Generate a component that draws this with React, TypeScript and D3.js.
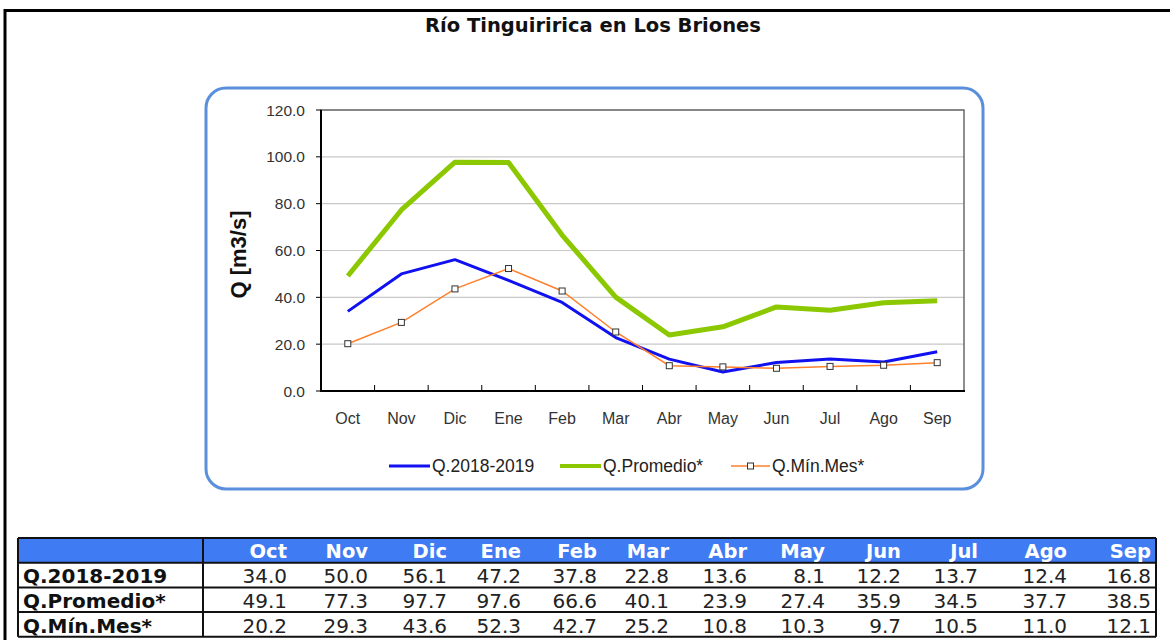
import React from "react";
import * as d3 from "d3";

const months = ["Oct", "Nov", "Dic", "Ene", "Feb", "Mar", "Abr", "May", "Jun", "Jul", "Ago", "Sep"];
const q2018 = [34.0, 50.0, 56.1, 47.2, 37.8, 22.8, 13.6, 8.1, 12.2, 13.7, 12.4, 16.8];
const qProm = [49.1, 77.3, 97.7, 97.6, 66.6, 40.1, 23.9, 27.4, 35.9, 34.5, 37.7, 38.5];
const qMin = [20.2, 29.3, 43.6, 52.3, 42.7, 25.2, 10.8, 10.3, 9.7, 10.5, 11.0, 12.1];
const yTicks = [0, 20, 40, 60, 80, 100, 120];
const seriesNames = ["Q.2018-2019", "Q.Promedio*", "Q.Mín.Mes*"];

const W = 1170;
const H = 640;
const plot = { left: 321, right: 964, top: 110, bottom: 391 };
const colBlue = "#1010f0";
const colGreen = "#8cc800";
const colOrange = "#ff7f2a";
const arial = "'Liberation Sans', Arial, sans-serif";
const verd = "'DejaVu Sans', Verdana, sans-serif";

// table layout
const tbl = { left: 18, right: 1156, top: 538, rowH: 24.7, firstColRight: 203 };
const colRightEdges = [287, 368, 447, 521, 597, 669, 747, 825, 901, 978, 1067, 1151];

export default function App() {
  const x = d3.scaleBand<string>().domain(months).range([plot.left, plot.right]);
  const y = d3.scaleLinear().domain([0, 120]).range([plot.bottom, plot.top]);
  const line = d3
    .line<number>()
    .x((_, i) => (x(months[i]) as number) + x.bandwidth() / 2)
    .y((d) => y(d));

  const rows = [q2018, qProm, qMin];

  return (
    <svg
      width={W}
      height={H}
      style={{ position: "absolute", left: 0, top: 0, background: "#fff" }}
      xmlns="http://www.w3.org/2000/svg"
    >
      {/* page border */}
      <line x1={4} x2={W} y1={10.5} y2={10.5} stroke="#000" strokeWidth={3} />
      <line x1={5} x2={5} y1={9} y2={H} stroke="#000" strokeWidth={3} />

      {/* title */}
      <text x={593} y={32} textAnchor="middle" fontFamily={verd} fontWeight="bold" fontSize={19.5} fill="#111">
        Río Tinguiririca en Los Briones
      </text>

      {/* rounded frame */}
      <rect x={206} y={88} width={777} height={401} rx={20} ry={20} fill="#fff" stroke="#5a8fdc" strokeWidth={3} />

      {/* gridlines */}
      {yTicks.map((t) => (
        <line key={"g" + t} x1={plot.left} x2={plot.right} y1={y(t)} y2={y(t)} stroke="#c8c8c8" strokeWidth={1.2} />
      ))}
      {/* plot border */}
      <rect
        x={plot.left}
        y={plot.top}
        width={plot.right - plot.left}
        height={plot.bottom - plot.top}
        fill="none"
        stroke="#6a6a6a"
        strokeWidth={1.5}
      />
      <line x1={plot.left} x2={plot.left} y1={plot.top} y2={plot.bottom + 1} stroke="#000" strokeWidth={2} />
      <line x1={plot.left} x2={plot.right + 1} y1={plot.bottom} y2={plot.bottom} stroke="#000" strokeWidth={2} />

      {/* y ticks */}
      {yTicks.map((t) => (
        <g key={"yt" + t}>
          <line x1={plot.left - 5} x2={plot.left} y1={y(t)} y2={y(t)} stroke="#000" strokeWidth={1} />
          <text x={305} y={y(t) + 5.5} textAnchor="end" fontFamily={arial} fontSize={15.5} fill="#333">
            {t.toFixed(1)}
          </text>
        </g>
      ))}
      {/* x ticks */}
      {months.map((m, i) =>
        i > 0 ? (
          <line
            key={"xt" + m}
            x1={x(m) as number}
            x2={x(m) as number}
            y1={plot.bottom}
            y2={plot.bottom - 6}
            stroke="#000"
            strokeWidth={1}
          />
        ) : null
      )}
      {months.map((m) => (
        <text
          key={"xl" + m}
          x={(x(m) as number) + x.bandwidth() / 2}
          y={424}
          textAnchor="middle"
          fontFamily={arial}
          fontSize={16}
          fill="#333"
        >
          {m}
        </text>
      ))}

      {/* y axis title */}
      <text
        transform={`translate(246,${(plot.top + plot.bottom) / 2 + 4}) rotate(-90)`}
        textAnchor="middle"
        fontFamily={arial}
        fontWeight="bold"
        fontSize={22}
        fill="#111"
      >
        Q [m3/s]
      </text>

      {/* series */}
      <path d={line(qProm) as string} fill="none" stroke={colGreen} strokeWidth={5} strokeLinejoin="round" />
      <path d={line(q2018) as string} fill="none" stroke={colBlue} strokeWidth={3} strokeLinejoin="round" />
      <path d={line(qMin) as string} fill="none" stroke={colOrange} strokeWidth={1.5} />
      {qMin.map((v, i) => (
        <rect
          key={"m" + i}
          x={(x(months[i]) as number) + x.bandwidth() / 2 - 3}
          y={y(v) - 3}
          width={6}
          height={6}
          fill="#fff"
          stroke="#333"
          strokeWidth={1}
        />
      ))}

      {/* legend */}
      <g fontFamily={arial} fontSize={17.5} fill="#222">
        <line x1={389} x2={430} y1={466} y2={466} stroke={colBlue} strokeWidth={3} />
        <text x={432} y={472}>{seriesNames[0]}</text>
        <line x1={560} x2={601} y1={466} y2={466} stroke={colGreen} strokeWidth={4} />
        <text x={603} y={472}>{seriesNames[1]}</text>
        <line x1={731} x2={770} y1={466} y2={466} stroke={colOrange} strokeWidth={1.5} />
        <rect x={747.5} y={463} width={6} height={6} fill="#fff" stroke="#333" strokeWidth={1} />
        <text x={772} y={472}>{seriesNames[2]}</text>
      </g>

      {/* table */}
      <rect x={tbl.left} y={tbl.top} width={tbl.right - tbl.left} height={tbl.rowH} fill="#3f7bf3" />
      {[0, 1, 2, 3, 4].map((r) => (
        <line
          key={"hr" + r}
          x1={tbl.left}
          x2={tbl.right}
          y1={tbl.top + r * tbl.rowH}
          y2={tbl.top + r * tbl.rowH}
          stroke="#111"
          strokeWidth={2}
        />
      ))}
      <line x1={tbl.left} x2={tbl.left} y1={tbl.top} y2={tbl.top + 4 * tbl.rowH} stroke="#111" strokeWidth={2} />
      <line x1={tbl.right} x2={tbl.right} y1={tbl.top} y2={tbl.top + 4 * tbl.rowH} stroke="#111" strokeWidth={2} />
      <line
        x1={tbl.firstColRight}
        x2={tbl.firstColRight}
        y1={tbl.top}
        y2={tbl.top + 4 * tbl.rowH}
        stroke="#111"
        strokeWidth={2}
      />
      {months.map((m, i) => (
        <text
          key={"th" + m}
          x={colRightEdges[i]}
          y={tbl.top + tbl.rowH - 5}
          textAnchor="end"
          fontFamily={verd}
          fontWeight="bold"
          fontSize={19.5}
          fill="#fff"
        >
          {m}
        </text>
      ))}
      {rows.map((row, r) => (
        <g key={"row" + r}>
          <text
            x={tbl.left + 5}
            y={tbl.top + (r + 2) * tbl.rowH - 4}
            fontFamily={verd}
            fontWeight="bold"
            fontSize={20}
            fill="#111"
          >
            {seriesNames[r]}
          </text>
          {row.map((v, i) => (
            <text
              key={"c" + i}
              x={colRightEdges[i]}
              y={tbl.top + (r + 2) * tbl.rowH - 4}
              textAnchor="end"
              fontFamily={verd}
              fontSize={20}
              fill="#222"
            >
              {v.toFixed(1)}
            </text>
          ))}
        </g>
      ))}
    </svg>
  );
}
